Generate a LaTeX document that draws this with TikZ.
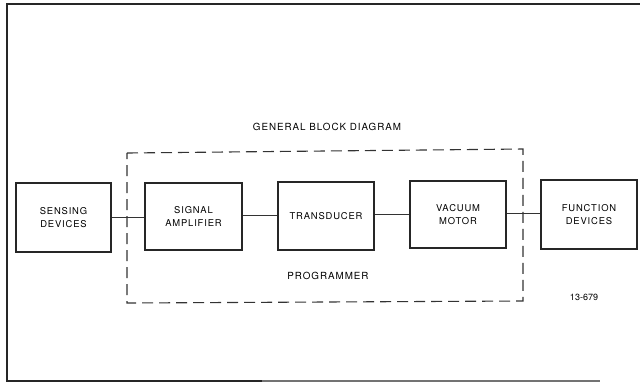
\documentclass[tikz,border=0pt]{standalone}
\usepackage{fontspec}
\setmainfont{TeX Gyre Heros}
\begin{document}
\begin{tikzpicture}[x=1pt,y=-1pt,
  blk/.style={draw=black!85,line width=1.1pt,inner sep=0pt,align=center,
    font=\fontsize{9.4}{13}\selectfont\addfontfeature{LetterSpace=9}},
  wire/.style={draw=black!80,line width=1pt},
  lbl/.style={font=\fontsize{9.8}{11}\selectfont\addfontfeature{LetterSpace=10},inner sep=0pt}]
\useasboundingbox (0,0) rectangle (640,384);
% frame
\draw[line width=1.8pt,black!85] (640,4) -- (7,4) -- (7,381) -- (262,381);
\draw[line width=1.4pt,black!55] (262,381) -- (600,381);
% dashed programmer box
\draw[line width=1.1pt,black!80,dash pattern=on 11pt off 6pt] (127,153) -- (523,149) -- (523,301) -- (127,303) -- cycle;
% blocks
\node[blk,minimum width=95pt,minimum height=69pt] (sen) at (63.5,217.5) {SENSING\\DEVICES};
\node[blk,minimum width=97pt,minimum height=67pt] (amp) at (193.5,216.5) {SIGNAL\\AMPLIFIER};
\node[blk,minimum width=96pt,minimum height=68pt] (tra) at (326,216) {TRANSDUCER};
\node[blk,minimum width=96pt,minimum height=67pt] (vac) at (458,214.5) {VACUUM\\MOTOR};
\node[blk,minimum width=96pt,minimum height=69pt] (fun) at (589,214.5) {FUNCTION\\DEVICES};
% connectors
\draw[wire] (sen.east |- 0,217) -- (amp.west |- 0,217);
\draw[wire] (amp.east |- 0,215) -- (tra.west |- 0,215);
\draw[wire] (tra.east |- 0,214) -- (vac.west |- 0,214);
\draw[wire] (vac.east |- 0,213) -- (fun.west |- 0,213);
% labels
\node[lbl] (title) at (327,127) {GENERAL BLOCK DIAGRAM};
\node[lbl] (prog) at (328,276) {PROGRAMMER};
\node[lbl,font=\fontsize{9}{10}\selectfont] (num) at (584,297) {13-679};
\end{tikzpicture}
\end{document}
